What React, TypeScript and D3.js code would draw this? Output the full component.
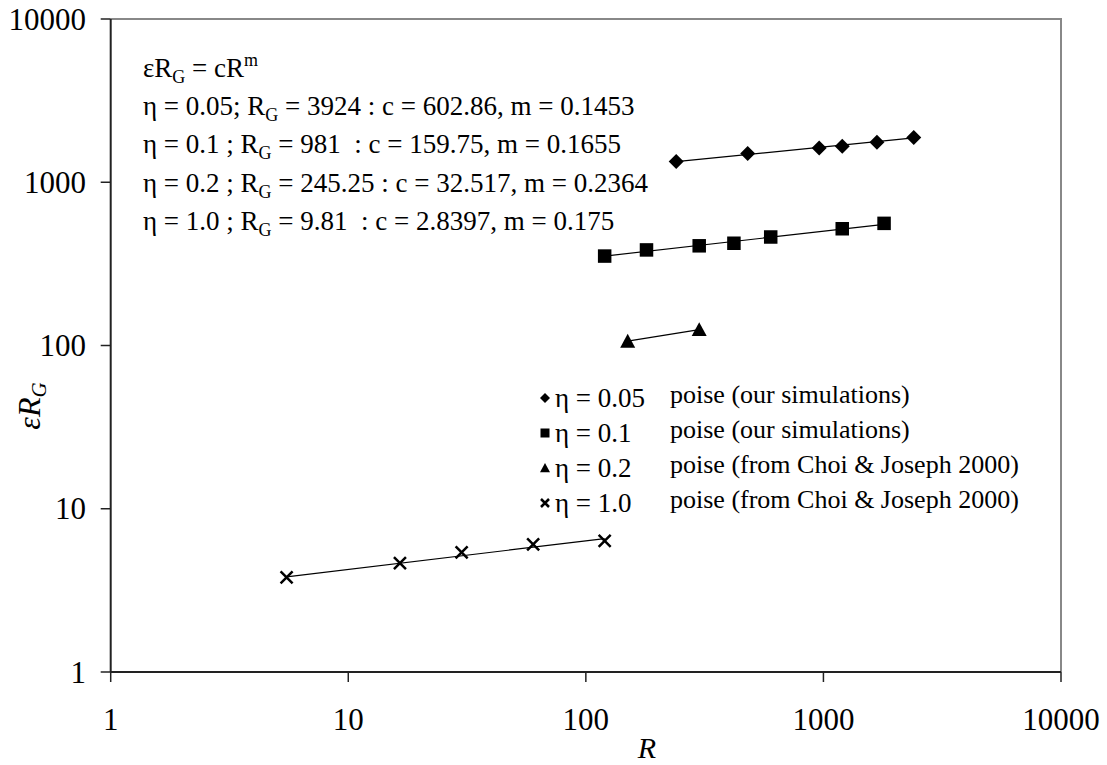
import * as d3 from "d3";

const W = 1107;
const H = 765;

// series data (R, εR_G)
const r005 = [240, 480, 960, 1200, 1680, 2400];
const v005 = [1340, 1500, 1620, 1660, 1760, 1880];
const r01 = [120, 180, 300, 420, 600, 1200, 1800];
const v01 = [353, 385, 408, 423, 462, 519, 560];
const r02 = [150, 300];
const v02 = [106, 125];
const r10 = [5.5, 16.5, 30, 60, 120];
const v10 = [3.8, 4.65, 5.4, 6.05, 6.35];

// power-law fits shown in the chart text: εR_G = c R^m
const fitC = [602.86, 159.75, 32.517, 2.8397];
const fitM = [0.1453, 0.1655, 0.2364, 0.175];

const ticks = [1, 10, 100, 1000, 10000];

const legendEta = ["η = 0.05", "η = 0.1", "η = 0.2", "η = 1.0"];
const legendNote = [
  "poise (our simulations)",
  "poise (our simulations)",
  "poise (from Choi & Joseph 2000)",
  "poise (from Choi & Joseph 2000)",
];

const noteEta = ["η = 0.05; R", "η = 0.1 ; R", "η = 0.2 ; R", "η = 1.0 ; R"];
const noteRest = [
  " = 3924 : c = 602.86, m = 0.1453",
  " = 981  : c = 159.75, m = 0.1655",
  " = 245.25 : c = 32.517, m = 0.2364",
  " = 9.81  : c = 2.8397, m = 0.175",
];

const x = d3.scaleLog().domain([1, 10000]).range([110.7, 1061]);
const y = d3.scaleLog().domain([1, 10000]).range([672, 19]);

const serif = "'Liberation Serif', 'Times New Roman', serif";

function Marker({ kind, cx, cy, s }: { kind: string; cx: number; cy: number; s: number }) {
  const h = s / 2;
  if (kind === "diamond")
    return <path d={`M${cx},${cy - h}L${cx + h},${cy}L${cx},${cy + h}L${cx - h},${cy}Z`} fill="#000" />;
  if (kind === "square")
    return <rect x={cx - h * 0.9} y={cy - h * 0.9} width={s * 0.9} height={s * 0.9} fill="#000" />;
  if (kind === "triangle")
    return <path d={`M${cx},${cy - h}L${cx + h},${cy + h * 0.85}L${cx - h},${cy + h * 0.85}Z`} fill="#000" />;
  const k = h * 0.8;
  return (
    <path
      d={`M${cx - k},${cy - k}L${cx + k},${cy + k}M${cx + k},${cy - k}L${cx - k},${cy + k}`}
      stroke="#000"
      strokeWidth={2.5}
    />
  );
}

const series = [
  { r: r005, v: v005, kind: "diamond" },
  { r: r01, v: v01, kind: "square" },
  { r: r02, v: v02, kind: "triangle" },
  { r: r10, v: v10, kind: "cross" },
];

export default function App() {
  return (
    <svg
      width={W}
      height={H}
      style={{ position: "absolute", left: 0, top: 0, background: "#fff" }}
      fontFamily={serif}
    >
      {/* plot frame */}
      <path d={`M${x(1)},${y(10000)}H${x(10000)}V${y(1)}`} fill="none" stroke="#888" strokeWidth={2} />
      <line x1={x(1)} x2={x(1)} y1={y(10000)} y2={y(1)} stroke="#222" strokeWidth={2} />
      <line x1={x(1)} x2={x(10000)} y1={y(1)} y2={y(1)} stroke="#222" strokeWidth={2} />

      {/* y ticks */}
      {ticks.map((t) => (
        <g key={"y" + t}>
          <line x1={x(1) - 10} x2={x(1)} y1={y(t)} y2={y(t)} stroke="#222" strokeWidth={1.5} />
          <text x={86} y={y(t)} dy="0.34em" textAnchor="end" fontSize={31}>
            {t}
          </text>
        </g>
      ))}
      {/* x ticks */}
      {ticks.map((t) => (
        <g key={"x" + t}>
          <line x1={x(t)} x2={x(t)} y1={y(1)} y2={y(1) + 10} stroke="#222" strokeWidth={1.5} />
          <text x={x(t)} y={730} textAnchor="middle" fontSize={31}>
            {t}
          </text>
        </g>
      ))}

      {/* axis titles */}
      <text x={647} y={758} textAnchor="middle" fontSize={30} fontStyle="italic">
        R
      </text>
      <text transform="translate(40,406) rotate(-90)" textAnchor="middle" fontSize={32} fontStyle="italic">
        εR<tspan fontSize={21} dy={6}>G</tspan>
      </text>

      {/* fitted power-law lines */}
      {series.map((s, i) => {
        const x0 = s.r[0];
        const x1 = s.r[s.r.length - 1];
        const l = d3
          .line<number>()
          .x((d) => x(d))
          .y((d) => y(fitC[i] * Math.pow(d, fitM[i])));
        return <path key={"f" + i} d={l([x0, x1]) || ""} stroke="#000" strokeWidth={1.2} fill="none" />;
      })}

      {/* markers */}
      {series.map((s, i) =>
        s.r.map((rv, j) => (
          <Marker key={`m${i}-${j}`} kind={s.kind} cx={x(rv)} cy={y(s.v[j])} s={15} />
        ))
      )}

      {/* equation block */}
      <text x={143} y={77} fontSize={27} style={{ whiteSpace: "pre" }}>
        εR<tspan fontSize={18} dy={6}>G</tspan>
        <tspan dy={-6}> = cR</tspan>
        <tspan fontSize={18} dy={-11}>m</tspan>
      </text>
      {noteEta.map((e, i) => (
        <text key={"n" + i} x={143} y={115 + i * 38.3} fontSize={27} style={{ whiteSpace: "pre" }}>
          {e}
          <tspan fontSize={18} dy={6}>G</tspan>
          <tspan dy={-6}>{noteRest[i]}</tspan>
        </text>
      ))}

      {/* legend */}
      {legendEta.map((e, i) => {
        const ly = 398 + i * 35;
        return (
          <g key={"l" + i}>
            <Marker kind={series[i].kind} cx={545} cy={ly} s={10} />
            <text x={555} y={ly} dy="0.34em" fontSize={27}>
              {e}
            </text>
            <text x={670} y={ly} dy="0.2em" fontSize={26}>
              {legendNote[i]}
            </text>
          </g>
        );
      })}
    </svg>
  );
}
